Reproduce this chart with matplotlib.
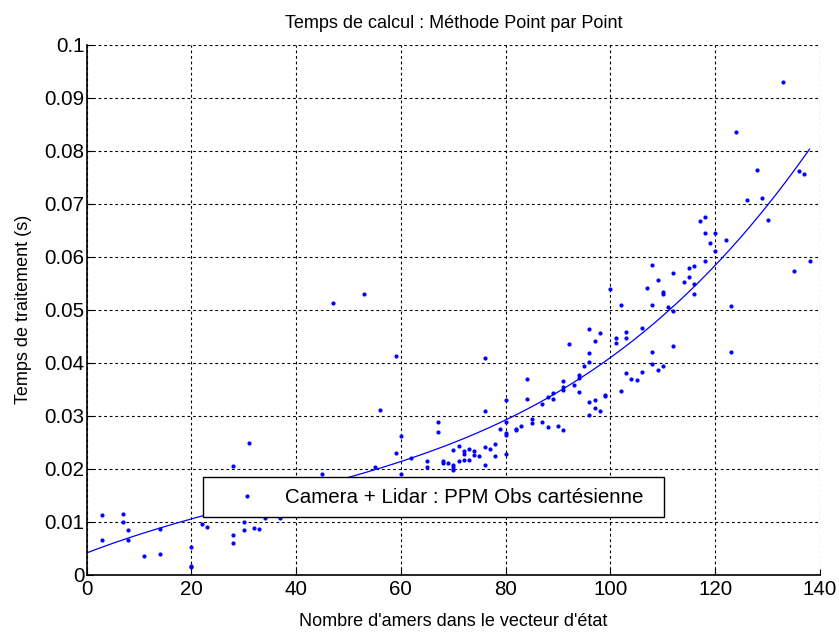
"""
Processing time of the point-by-point method vs. state vector size.
"""
import numpy as np
import matplotlib
matplotlib.use("Agg")
import matplotlib.pyplot as plt

plt.rcParams["font.family"] = ["Liberation Sans", "DejaVu Sans"]

TITLE = "Temps de calcul : Méthode Point par Point"
X_LABEL = "Nombre d'amers dans le vecteur d'état"
Y_LABEL = "Temps de traitement (s)"
SERIES_LABEL = "Camera + Lidar : PPM Obs cartésienne"

# number of landmarks in the state vector
n_landmarks = [
    3, 3, 7, 7, 8, 8, 11, 14, 14, 20, 20, 20, 22, 23, 28, 28, 28, 30, 30, 31,
    32, 33, 34, 37, 45, 47, 53, 55, 56, 59, 59, 60, 60, 62, 65, 65, 67, 67,
    68, 68, 69, 70, 70, 70, 70, 71, 71, 72, 72, 72, 73, 73, 74, 74, 75,
    76, 76, 76, 76, 77, 78, 78, 79, 80, 80, 80, 80, 80, 82, 82, 83, 84, 84,
    85, 85, 87, 87, 88, 88, 89, 89, 90, 91, 91, 91, 91, 92, 93, 94, 94, 94,
    95, 96, 96, 96, 96, 96, 97, 97, 97, 98, 98, 99, 99, 100, 101, 101,
    102, 102, 103, 103, 103, 104, 105, 106, 106, 107, 108, 108, 108, 108,
    109, 109, 110, 110, 110, 111, 112, 112, 112, 114, 115, 115, 116, 116, 116,
    117, 118, 118, 118, 119, 120, 120, 122, 123, 123, 124, 126, 128, 129,
    130, 133, 135, 136, 137, 138,
]

# processing time per step (s)
proc_time = [
    0.0112, 0.0066, 0.0115, 0.0100, 0.0084, 0.0066, 0.0035, 0.0086, 0.0039,
    0.0052, 0.0016, 0.0014, 0.0096, 0.0089, 0.0205, 0.0075, 0.0059, 0.0100,
    0.0084, 0.0248, 0.0088, 0.0086, 0.0107, 0.0107, 0.0190, 0.0513, 0.0530,
    0.0202, 0.0310, 0.0413, 0.0229, 0.0261, 0.0190, 0.0219, 0.0215, 0.0203,
    0.0288, 0.0269, 0.0215, 0.0211, 0.0210, 0.0235, 0.0207, 0.0202, 0.0198,
    0.0242, 0.0214, 0.0233, 0.0227, 0.0217, 0.0237, 0.0217, 0.0233, 0.0225,
    0.0224, 0.0409, 0.0308, 0.0241, 0.0207, 0.0236, 0.0246, 0.0224, 0.0274,
    0.0329, 0.0288, 0.0267, 0.0263, 0.0227, 0.0275, 0.0273, 0.0281, 0.0369,
    0.0332, 0.0293, 0.0286, 0.0322, 0.0288, 0.0335, 0.0278, 0.0343, 0.0331,
    0.0281, 0.0365, 0.0353, 0.0348, 0.0273, 0.0435, 0.0358, 0.0376, 0.0370,
    0.0345, 0.0393, 0.0464, 0.0418, 0.0401, 0.0325, 0.0301, 0.0440, 0.0329,
    0.0315, 0.0456, 0.0309, 0.0339, 0.0336, 0.0538, 0.0446, 0.0436, 0.0508,
    0.0346, 0.0457, 0.0447, 0.0380, 0.0369, 0.0367, 0.0465, 0.0383, 0.0541,
    0.0584, 0.0509, 0.0419, 0.0398, 0.0556, 0.0385, 0.0533, 0.0529, 0.0393,
    0.0505, 0.0568, 0.0498, 0.0432, 0.0552, 0.0578, 0.0562, 0.0582, 0.0549,
    0.0529, 0.0667, 0.0674, 0.0644, 0.0592, 0.0625, 0.0645, 0.0610, 0.0632,
    0.0506, 0.0420, 0.0835, 0.0707, 0.0764, 0.0711, 0.0669, 0.0930, 0.0573,
    0.0761, 0.0756, 0.0592,
]

X_TICKS = [0, 20, 40, 60, 80, 100, 120, 140]
Y_TICKS = [0, 0.01, 0.02, 0.03, 0.04, 0.05, 0.06, 0.07, 0.08, 0.09, 0.1]
Y_TICK_LABELS = ["0", "0.01", "0.02", "0.03", "0.04", "0.05", "0.06",
                 "0.07", "0.08", "0.09", "0.1"]


def main() -> None:
    x = np.asarray(n_landmarks, dtype=float)
    y = np.asarray(proc_time, dtype=float)

    # cubic least-squares trend
    coeffs = np.polyfit(x, y, 3)
    x_fit = np.linspace(0, x.max(), 300)
    y_fit = np.polyval(coeffs, x_fit)

    fig = plt.figure(figsize=(8.39, 6.37), dpi=100)
    ax = fig.add_axes([0.1031, 0.0981, 0.8743, 0.8320])

    ax.plot(x, y, ".", color="#0000ff", markersize=4, label=SERIES_LABEL)
    ax.plot(x_fit, y_fit, "-", color="#0000ff", linewidth=0.9)

    ax.set_xlim(0, 140)
    ax.set_ylim(0, 0.1)
    ax.set_xticks(X_TICKS)
    ax.set_yticks(Y_TICKS)
    ax.set_yticklabels(Y_TICK_LABELS)

    ax.grid(True, color="k", linestyle=(0, (2.5, 2.5)), linewidth=0.8)
    for side in ("top", "right"):
        ax.spines[side].set_visible(False)
    for side in ("left", "bottom"):
        ax.spines[side].set_linewidth(1.2)
    ax.tick_params(direction="in", length=4, width=0.8, labelsize=14.8)
    ax.tick_params(axis="x", pad=4)
    ax.tick_params(axis="y", pad=1.5)

    ax.set_title(TITLE, fontsize=13, pad=12)
    ax.set_xlabel(X_LABEL, fontsize=13, labelpad=10)
    ax.set_ylabel(Y_LABEL, fontsize=13, labelpad=9)

    leg = ax.legend(
        loc="lower left",
        bbox_to_anchor=(0.159, 0.1085, 0.628, 0.08),
        mode="expand",
        borderaxespad=0,
        fontsize=14.8,
        handlelength=3.3,
        handletextpad=0.2,
        borderpad=0.5,
        fancybox=False,
        framealpha=1,
        markerscale=1,
    )
    leg.get_frame().set_edgecolor("k")
    leg.get_frame().set_linewidth(1.0)

    fig.savefig("out.png", dpi=100)
    plt.close(fig)


if __name__ == "__main__":
    main()
